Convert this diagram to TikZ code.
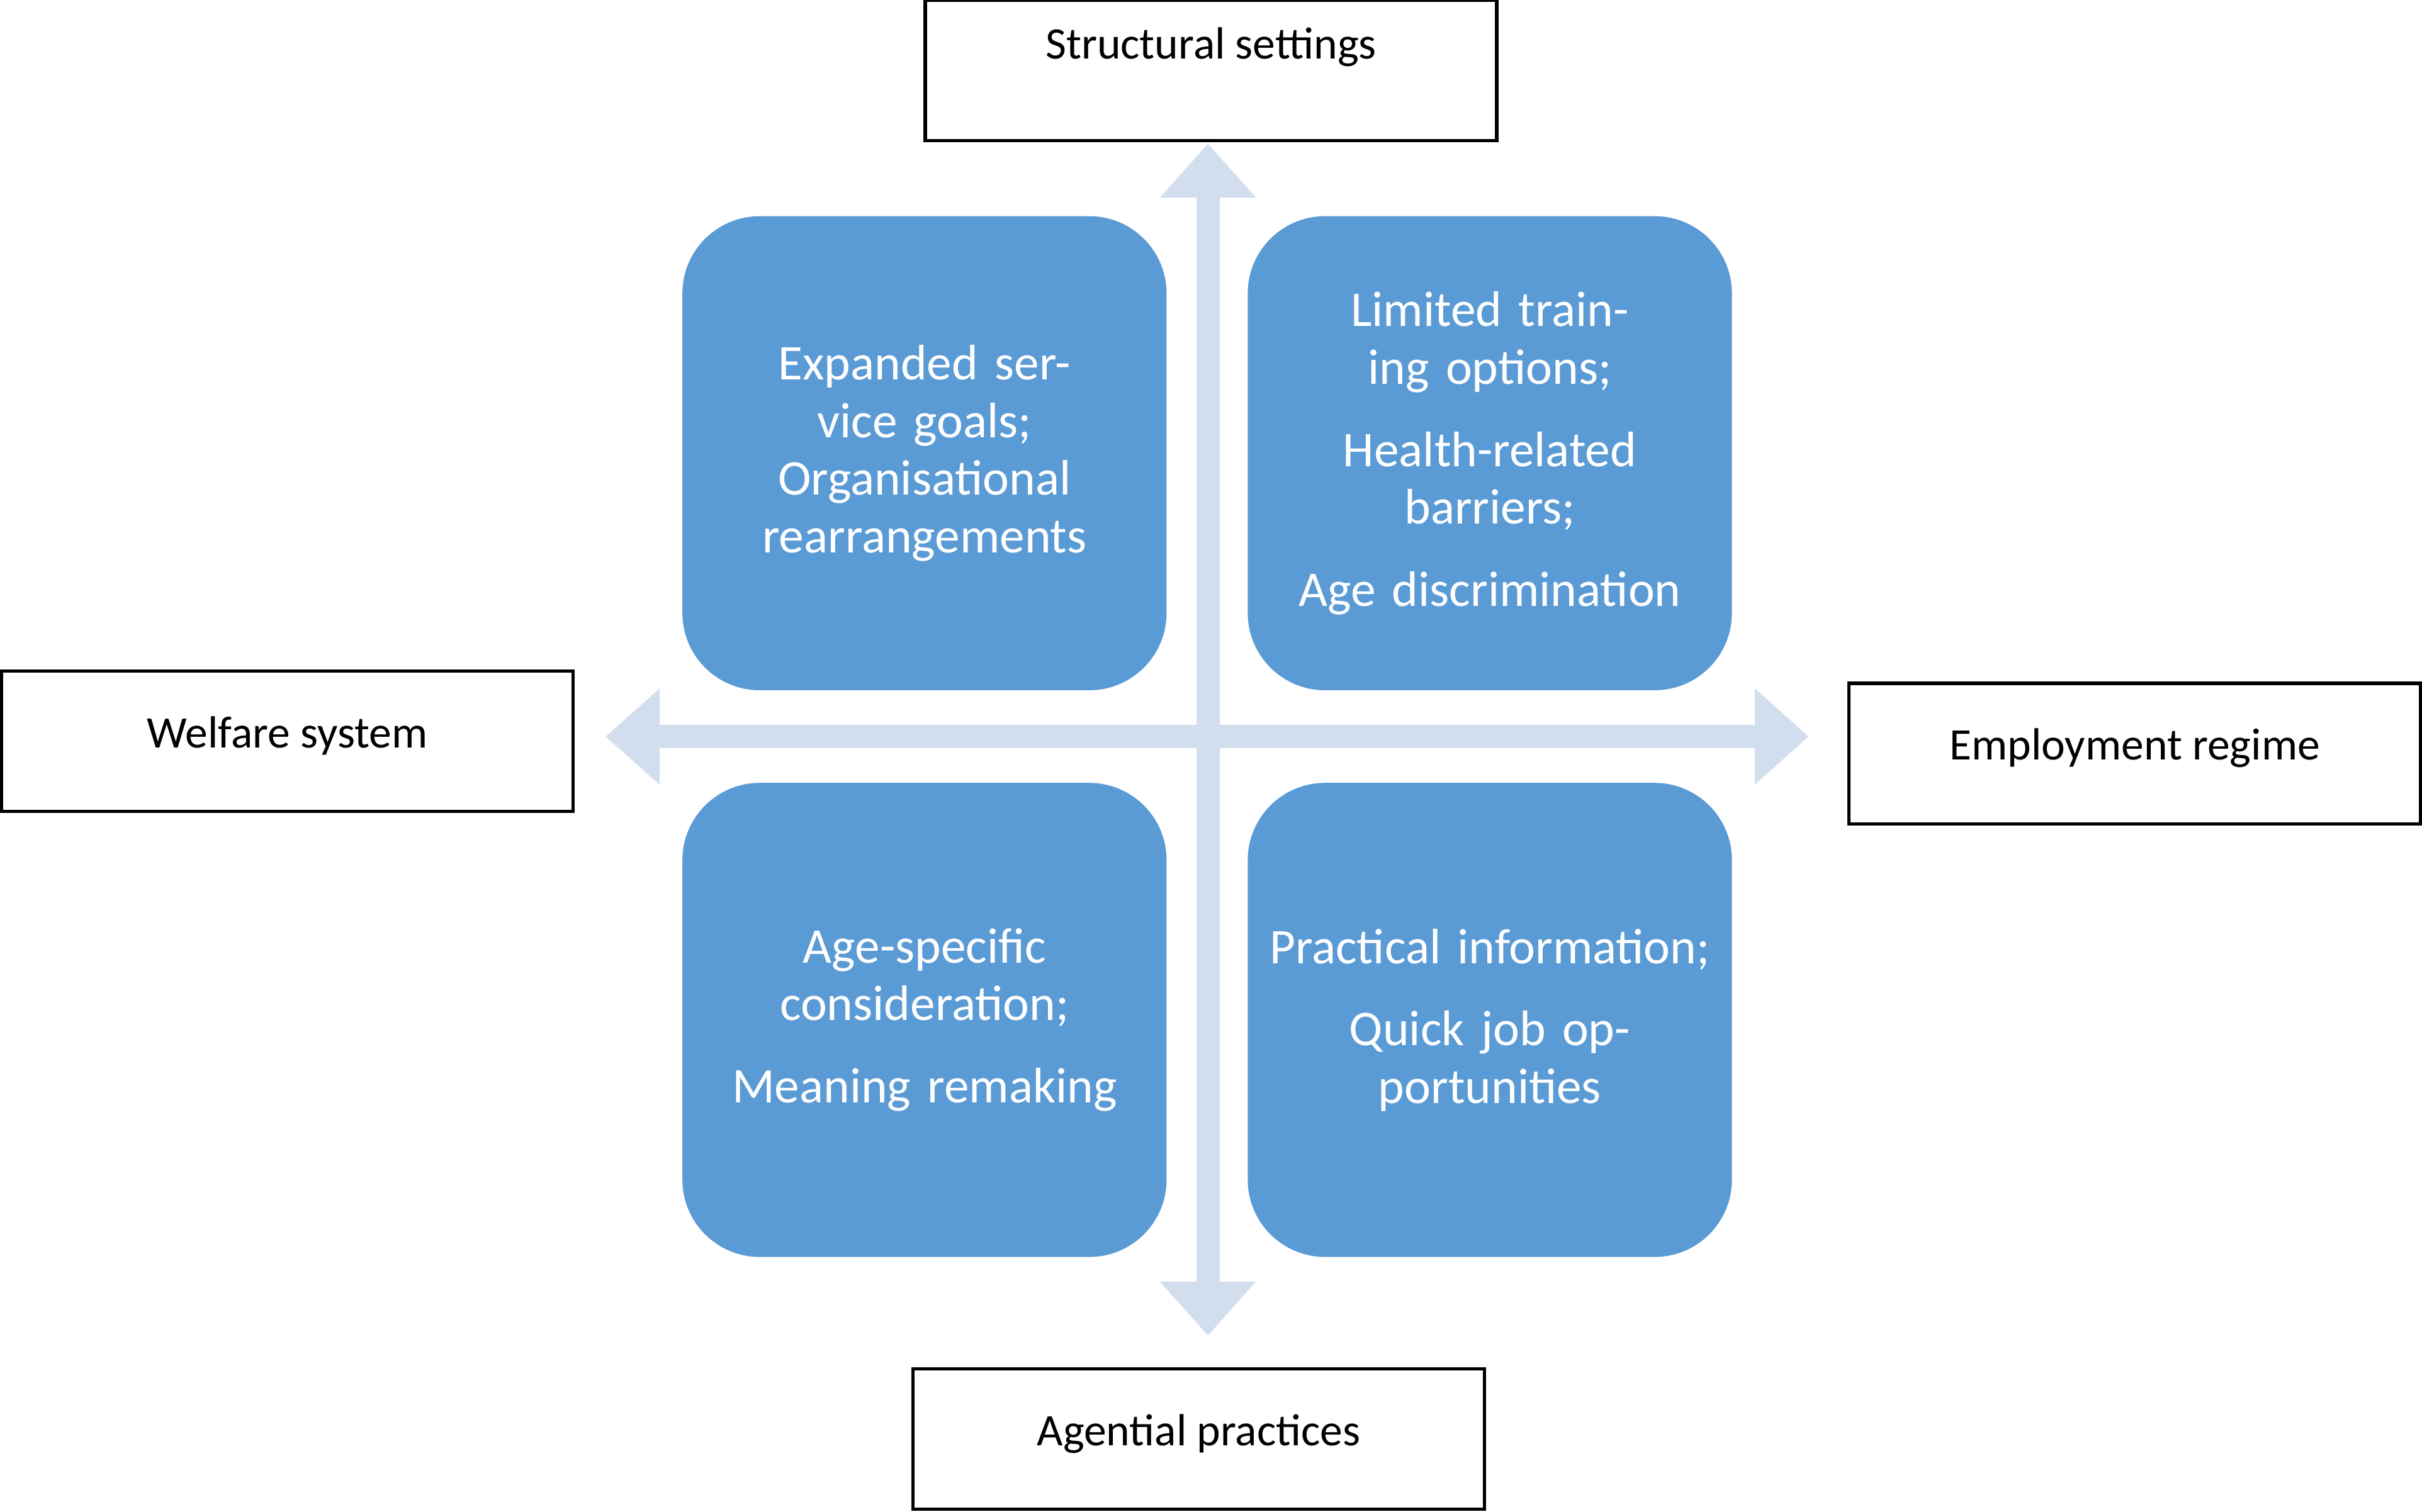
\documentclass[tikz,border=0pt]{standalone}
\usepackage{fontspec}
\setmainfont{Carlito}
\usetikzlibrary{arrows.meta}
\definecolor{tileblue}{HTML}{5B9BD5}
\definecolor{axisblue}{HTML}{D2DEEE}
\tikzset{
  labelbox/.style={draw, line width=0.6pt, minimum width=3.7cm, minimum height=0.91cm, font=\fontsize{8.3}{10}\selectfont},
  tile/.style={fill=tileblue, rounded corners=0.5cm, minimum width=3.07cm, minimum height=3.07cm, text=white, align=center, text width=2.9cm, font=\fontsize{9.2}{10.6}\selectfont},
  axis/.style={axisblue, line width=0.15cm, {Triangle[width=0.6cm,length=0.35cm]}-{Triangle[width=0.6cm,length=0.35cm]}}
}
\begin{document}
\begin{tikzpicture}[y=-1cm]
    \useasboundingbox (0,0) rectangle (15.68,9.79);

    % Axes
    \coordinate (top) at (7.82,0.93);
    \coordinate (bottom) at (7.82,8.65);
    \coordinate (left) at (3.92,4.77);
    \coordinate (right) at (11.71,4.77);
    \draw[axis] (top) -- (bottom);
    \draw[axis] (left) -- (right);

    % Outer labels
    \node[labelbox, anchor=north, yshift=0.01cm] (structural) at (7.84,0) {\raisebox{0.35cm}{Structural settings}};
    \node[labelbox] (welfare) at (1.86,4.80) {\raisebox{0.12cm}{Welfare system}};
    \node[labelbox] (employment) at (13.82,4.88) {\raisebox{0.12cm}{Employment regime}};
    \node[labelbox] (agential) at (7.76,9.32) {\raisebox{0.12cm}{Agential practices}};

    % Tiles
    \node[tile] (tl) at (5.985,2.935) {Expanded service goals;\\Organisational rearrangements};
    \node[tile] (tr) at (9.645,2.935) {Limited training options;\\[0.16cm]Health-related barriers;\\[0.16cm]Age discrimination};
    \node[tile] (bl) at (5.985,6.605) {Age-specific consideration;\\[0.16cm]Meaning remaking};
    \node[tile] (br) at (9.645,6.605) {Practical information;\\[0.16cm]Quick job opportunities};
\end{tikzpicture}
\end{document}
